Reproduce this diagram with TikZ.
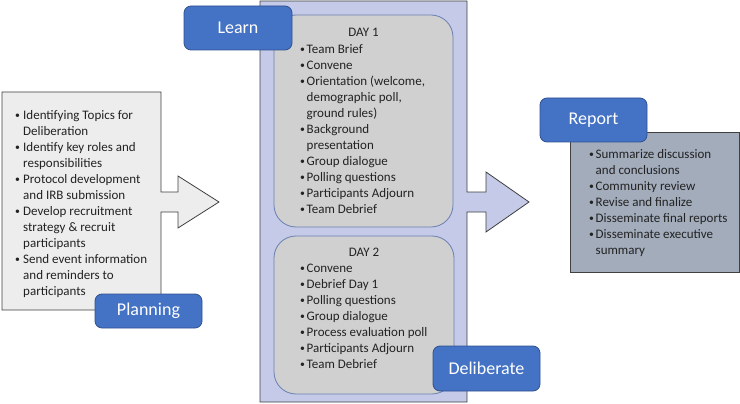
\documentclass[tikz,border=0pt]{standalone}
\usepackage{fontspec}
\setmainfont{Carlito}
\definecolor{lblue}{HTML}{4472C4}
\definecolor{lblueb}{HTML}{2F528F}
\definecolor{plgray}{HTML}{EDEDED}
\definecolor{midfill}{HTML}{C4CAE8}
\definecolor{dayfill}{HTML}{D0D0D0}
\definecolor{dayborder}{HTML}{6A80B0}
\definecolor{repfill}{HTML}{A3ACBB}
\definecolor{txt}{HTML}{222222}
\newcommand\bl{\raisebox{0.6pt}{\scalebox{0.75}{\textbullet}}}
\tikzset{
  label box/.style={draw=lblueb, line width=0.8pt, fill=lblue, rounded corners=7pt, text=white,
    font=\fontsize{18}{20}\selectfont},
  list/.style={inner sep=0pt, anchor=base west, text=txt, font=\fontsize{13}{16}\selectfont},
  daybox/.style={draw=dayborder, line width=0.8pt, fill=dayfill, rounded corners=22pt},
  shapeline/.style={draw=black!75, line width=0.8pt}
}
\begin{document}
\begin{tikzpicture}[x=1pt,y=-1pt]
\useasboundingbox (0,0) rectangle (740,404);
% Planning arrow shape
\draw[shapeline, fill=plgray] (2,92) -- (161,92) -- (161,192) -- (178,192) -- (178,176) -- (219,202)
  -- (178,228) -- (178,212) -- (161,212) -- (161,310) -- (2,310) -- cycle;
\node[list] (plist) at (15,119.5) {\begin{tabular}[t]{@{}p{8pt}@{}l@{}}
\bl & Identifying Topics for\\ & Deliberation\\
\bl & Identify key roles and\\ & responsibilities\\
\bl & Protocol development\\ & and IRB submission\\
\bl & Develop recruitment\\ & strategy \& recruit\\ & participants\\
\bl & Send event information\\ & and reminders to\\ & participants
\end{tabular}};
% Middle arrow shape
\draw[shapeline, fill=midfill] (260,1) -- (467,1) -- (467,192) -- (486,192) -- (486,172) -- (529,202)
  -- (486,232) -- (486,212) -- (467,212) -- (467,402) -- (260,402) -- cycle;
\draw[daybox] (274,15) rectangle (453,227);
\draw[daybox] (274,236) rectangle (454,394);
\node[list, anchor=center] (d1) at (363.5,32.7) {DAY 1};
\node[list] (d1list) at (300,53.5) {\begin{tabular}[t]{@{}p{6.5pt}@{}l@{}}
\bl & Team Brief\\
\bl & Convene\\
\bl & Orientation (welcome,\\ & demographic poll,\\ & ground rules)\\
\bl & Background\\ & presentation\\
\bl & Group dialogue\\
\bl & Polling questions\\
\bl & Participants Adjourn\\
\bl & Team Debrief
\end{tabular}};
\node[list, anchor=center] (d2) at (364,252) {DAY 2};
\node[list] (d2list) at (300,272.5) {\begin{tabular}[t]{@{}p{6.5pt}@{}l@{}}
\bl & Convene\\
\bl & Debrief Day 1\\
\bl & Polling questions\\
\bl & Group dialogue\\
\bl & Process evaluation poll\\
\bl & Participants Adjourn\\
\bl & Team Debrief
\end{tabular}};
% Report box
\draw[shapeline, fill=repfill] (570,132) rectangle (739,272);
\node[list] (rlist) at (589,158.5) {\begin{tabular}[t]{@{}p{6.5pt}@{}l@{}}
\bl & Summarize discussion\\ & and conclusions\\
\bl & Community review\\
\bl & Revise and finalize\\
\bl & Disseminate final reports\\
\bl & Disseminate executive\\ & summary
\end{tabular}};
% Labels
\node[label box, minimum width=108pt, minimum height=44pt] (learn) at (238,28) {Learn};
\node[label box, minimum width=107pt, minimum height=34pt] (planning) at (148.5,311) {Planning};
\node[label box, minimum width=107pt, minimum height=45pt] (delib) at (486.5,368.5) {Deliberate};
\node[label box, minimum width=107pt, minimum height=44pt] (report) at (593.5,120) {Report};
\end{tikzpicture}
\end{document}
